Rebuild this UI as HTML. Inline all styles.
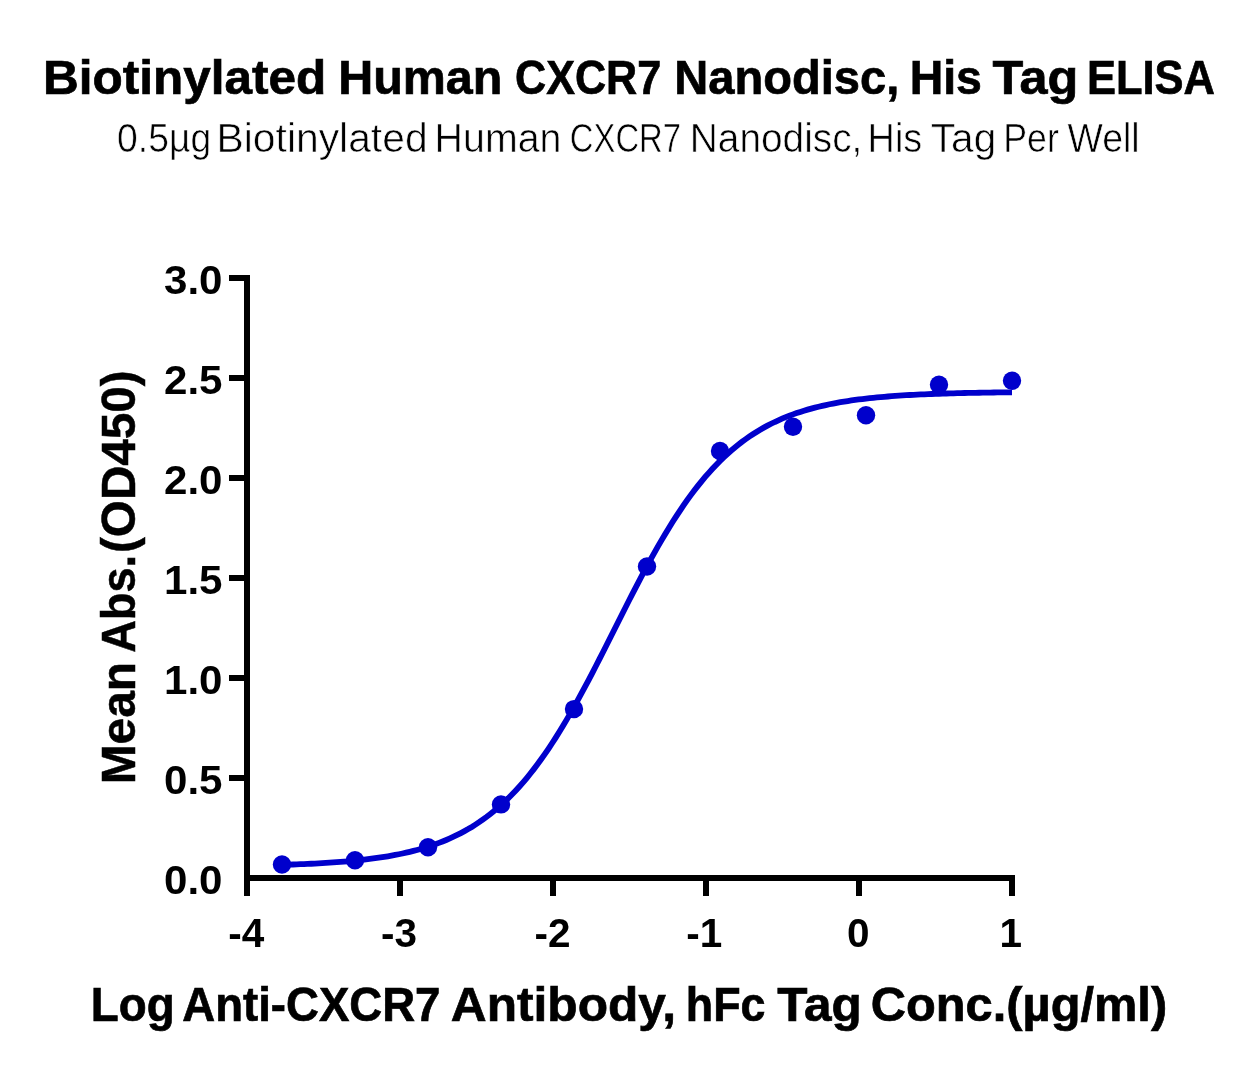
<!DOCTYPE html>
<html><head><meta charset="utf-8"><style>
html,body{margin:0;padding:0;background:#fff;}
svg{display:block;}
text{font-family:"Liberation Sans",sans-serif;}
</style></head><body>
<svg width="1257" height="1077" viewBox="0 0 1257 1077" style="will-change:transform">
<rect width="1257" height="1077" fill="#fff"/>
<text id="t0" x="43.00" y="94.20" font-size="48.50" font-weight="bold" stroke="#000" stroke-width="0.7" textLength="283.29" lengthAdjust="spacingAndGlyphs">Biotinylated</text>
<text id="t1" x="338.18" y="94.20" font-size="48.50" font-weight="bold" stroke="#000" stroke-width="0.7" textLength="164.26" lengthAdjust="spacingAndGlyphs">Human</text>
<text id="t2" x="515.00" y="94.20" font-size="48.50" font-weight="bold" stroke="#000" stroke-width="0.7" textLength="146.20" lengthAdjust="spacingAndGlyphs">CXCR7</text>
<text id="t3" x="674.22" y="94.20" font-size="48.50" font-weight="bold" stroke="#000" stroke-width="0.7" textLength="225.04" lengthAdjust="spacingAndGlyphs">Nanodisc,</text>
<text id="t4" x="909.69" y="94.20" font-size="48.50" font-weight="bold" stroke="#000" stroke-width="0.7" textLength="72.22" lengthAdjust="spacingAndGlyphs">His</text>
<text id="t5" x="992.49" y="94.20" font-size="48.50" font-weight="bold" stroke="#000" stroke-width="0.7" textLength="85.89" lengthAdjust="spacingAndGlyphs">Tag</text>
<text id="t6" x="1086.97" y="94.20" font-size="48.50" font-weight="bold" stroke="#000" stroke-width="0.7" textLength="128.04" lengthAdjust="spacingAndGlyphs">ELISA</text>
<text id="s0" x="117.08" y="151.70" font-size="39.80" stroke="#fff" stroke-width="0.6" textLength="94.07" lengthAdjust="spacingAndGlyphs">0.5µg</text>
<text id="s1" x="216.55" y="151.70" font-size="39.80" stroke="#fff" stroke-width="0.6" textLength="211.05" lengthAdjust="spacingAndGlyphs">Biotinylated</text>
<text id="s2" x="434.58" y="151.70" font-size="39.80" stroke="#fff" stroke-width="0.6" textLength="126.94" lengthAdjust="spacingAndGlyphs">Human</text>
<text id="s3" x="569.83" y="151.70" font-size="39.80" stroke="#fff" stroke-width="0.6" textLength="111.22" lengthAdjust="spacingAndGlyphs">CXCR7</text>
<text id="s4" x="689.84" y="151.70" font-size="39.80" stroke="#fff" stroke-width="0.6" textLength="172.49" lengthAdjust="spacingAndGlyphs">Nanodisc,</text>
<text id="s5" x="867.61" y="151.70" font-size="39.80" stroke="#fff" stroke-width="0.6" textLength="54.61" lengthAdjust="spacingAndGlyphs">His</text>
<text id="s6" x="930.88" y="151.70" font-size="39.80" stroke="#fff" stroke-width="0.6" textLength="65.29" lengthAdjust="spacingAndGlyphs">Tag</text>
<text id="s7" x="1003.23" y="151.70" font-size="39.80" stroke="#fff" stroke-width="0.6" textLength="55.61" lengthAdjust="spacingAndGlyphs">Per</text>
<text id="s8" x="1067.51" y="151.70" font-size="39.80" stroke="#fff" stroke-width="0.6" textLength="72.17" lengthAdjust="spacingAndGlyphs">Well</text>
<text id="x0" x="90.82" y="1021.30" font-size="48.50" font-weight="bold" stroke="#000" stroke-width="0.7" textLength="83.86" lengthAdjust="spacingAndGlyphs">Log</text>
<text id="x1" x="182.28" y="1021.30" font-size="48.50" font-weight="bold" stroke="#000" stroke-width="0.7" textLength="258.18" lengthAdjust="spacingAndGlyphs">Anti-CXCR7</text>
<text id="x2" x="450.85" y="1021.30" font-size="48.50" font-weight="bold" stroke="#000" stroke-width="0.7" textLength="225.23" lengthAdjust="spacingAndGlyphs">Antibody,</text>
<text id="x3" x="685.87" y="1021.30" font-size="48.50" font-weight="bold" stroke="#000" stroke-width="0.7" textLength="79.63" lengthAdjust="spacingAndGlyphs">hFc</text>
<text id="x4" x="777.37" y="1021.30" font-size="48.50" font-weight="bold" stroke="#000" stroke-width="0.7" textLength="84.37" lengthAdjust="spacingAndGlyphs">Tag</text>
<text id="x5" x="870.80" y="1021.30" font-size="48.50" font-weight="bold" stroke="#000" stroke-width="0.7" textLength="296.34" lengthAdjust="spacingAndGlyphs">Conc.(µg/ml)</text>
<text id="y0" transform="translate(135.30 784.28) rotate(-90)" font-size="48.00" font-weight="bold" stroke="#000" stroke-width="0.5" textLength="122.31" lengthAdjust="spacingAndGlyphs">Mean</text>
<text id="y1" transform="translate(135.30 652.86) rotate(-90)" font-size="48.00" font-weight="bold" stroke="#000" stroke-width="0.5" textLength="98.05" lengthAdjust="spacingAndGlyphs">Abs.</text>
<text id="y2" transform="translate(135.30 553.05) rotate(-90)" font-size="48.00" font-weight="bold" stroke="#000" stroke-width="0.5" textLength="182.79" lengthAdjust="spacingAndGlyphs">(OD450)</text>
<g fill="#000">
<rect x="244" y="275" width="6" height="606"/>
<rect x="244" y="875" width="771" height="6"/>
<rect x="229" y="775" width="21" height="6"/><rect x="229" y="675" width="21" height="6"/><rect x="229" y="575" width="21" height="6"/><rect x="229" y="475" width="21" height="6"/><rect x="229" y="375" width="21" height="6"/><rect x="229" y="275" width="21" height="6"/><rect x="244" y="875" width="6" height="21"/><rect x="397" y="875" width="6" height="21"/><rect x="550" y="875" width="6" height="21"/><rect x="703" y="875" width="6" height="21"/><rect x="856" y="875" width="6" height="21"/><rect x="1009" y="875" width="6" height="21"/>
</g>
<g font-weight="bold" font-size="40.9"><text x="164" y="893.5" textLength="58.5" lengthAdjust="spacingAndGlyphs">0.0</text><text x="164" y="793.5" textLength="58.5" lengthAdjust="spacingAndGlyphs">0.5</text><text x="164" y="693.5" textLength="58.5" lengthAdjust="spacingAndGlyphs">1.0</text><text x="164" y="593.5" textLength="58.5" lengthAdjust="spacingAndGlyphs">1.5</text><text x="164" y="493.5" textLength="58.5" lengthAdjust="spacingAndGlyphs">2.0</text><text x="164" y="393.5" textLength="58.5" lengthAdjust="spacingAndGlyphs">2.5</text><text x="164" y="293.5" textLength="58.5" lengthAdjust="spacingAndGlyphs">3.0</text></g>
<g font-weight="bold" font-size="40.5"><text x="246.25" y="946.8" text-anchor="middle">-4</text><text x="399.05" y="946.8" text-anchor="middle">-3</text><text x="552.45" y="946.8" text-anchor="middle">-2</text><text x="704.25" y="946.8" text-anchor="middle">-1</text><text x="858.15" y="946.8" text-anchor="middle">0</text><text x="1010.80" y="946.8" text-anchor="middle">1</text></g>
<path d="M282.00 864.86 L285.65 864.75 L289.30 864.63 L292.95 864.50 L296.60 864.37 L300.25 864.22 L303.90 864.07 L307.55 863.91 L311.20 863.74 L314.85 863.55 L318.50 863.36 L322.15 863.15 L325.80 862.93 L329.45 862.70 L333.10 862.45 L336.75 862.19 L340.40 861.91 L344.05 861.62 L347.70 861.30 L351.35 860.97 L355.00 860.61 L358.65 860.24 L362.30 859.84 L365.95 859.41 L369.60 858.96 L373.25 858.49 L376.90 857.98 L380.55 857.44 L384.20 856.87 L387.85 856.27 L391.50 855.63 L395.15 854.95 L398.80 854.23 L402.45 853.47 L406.10 852.66 L409.75 851.81 L413.40 850.90 L417.05 849.94 L420.70 848.93 L424.35 847.85 L428.00 846.71 L431.65 845.51 L435.30 844.24 L438.95 842.90 L442.60 841.48 L446.25 839.98 L449.90 838.39 L453.55 836.72 L457.20 834.96 L460.85 833.10 L464.50 831.14 L468.15 829.08 L471.80 826.91 L475.45 824.62 L479.10 822.22 L482.75 819.69 L486.40 817.04 L490.05 814.25 L493.70 811.33 L497.35 808.27 L501.00 805.06 L504.65 801.71 L508.30 798.20 L511.95 794.53 L515.60 790.71 L519.25 786.72 L522.90 782.57 L526.55 778.26 L530.20 773.77 L533.85 769.11 L537.50 764.28 L541.15 759.28 L544.80 754.11 L548.45 748.77 L552.10 743.27 L555.75 737.60 L559.40 731.77 L563.05 725.78 L566.70 719.64 L570.35 713.36 L574.00 706.94 L577.65 700.39 L581.30 693.72 L584.95 686.94 L588.60 680.05 L592.25 673.08 L595.90 666.02 L599.55 658.90 L603.20 651.72 L606.85 644.50 L610.50 637.25 L614.15 629.99 L617.80 622.73 L621.45 615.48 L625.10 608.25 L628.75 601.06 L632.40 593.93 L636.05 586.85 L639.70 579.86 L643.35 572.95 L647.00 566.15 L650.65 559.45 L654.30 552.87 L657.95 546.42 L661.60 540.10 L665.25 533.93 L668.90 527.91 L672.55 522.05 L676.20 516.34 L679.85 510.80 L683.50 505.42 L687.15 500.21 L690.80 495.17 L694.45 490.30 L698.10 485.61 L701.75 481.08 L705.40 476.73 L709.05 472.54 L712.70 468.52 L716.35 464.66 L720.00 460.96 L723.65 457.41 L727.30 454.02 L730.95 450.78 L734.60 447.69 L738.25 444.74 L741.90 441.92 L745.55 439.24 L749.20 436.68 L752.85 434.25 L756.50 431.94 L760.15 429.74 L763.80 427.65 L767.45 425.67 L771.10 423.79 L774.75 422.00 L778.40 420.31 L782.05 418.71 L785.70 417.19 L789.35 415.75 L793.00 414.39 L796.65 413.11 L800.30 411.89 L803.95 410.74 L807.60 409.65 L811.25 408.62 L814.90 407.65 L818.55 406.73 L822.20 405.86 L825.85 405.05 L829.50 404.27 L833.15 403.55 L836.80 402.86 L840.45 402.21 L844.10 401.60 L847.75 401.02 L851.40 400.48 L855.05 399.96 L858.70 399.48 L862.35 399.02 L866.00 398.59 L869.65 398.19 L873.30 397.81 L876.95 397.45 L880.60 397.11 L884.25 396.79 L887.90 396.49 L891.55 396.21 L895.20 395.94 L898.85 395.69 L902.50 395.45 L906.15 395.23 L909.80 395.02 L913.45 394.83 L917.10 394.64 L920.75 394.47 L924.40 394.30 L928.05 394.15 L931.70 394.00 L935.35 393.86 L939.00 393.73 L942.65 393.61 L946.30 393.50 L949.95 393.39 L953.60 393.29 L957.25 393.19 L960.90 393.10 L964.55 393.02 L968.20 392.94 L971.85 392.87 L975.50 392.80 L979.15 392.73 L982.80 392.67 L986.45 392.61 L990.10 392.55 L993.75 392.50 L997.40 392.45 L1001.05 392.41 L1004.70 392.36 L1008.35 392.32 L1012.00 392.29" fill="none" stroke="#0000CC" stroke-width="5.8"/>
<g fill="#0000CC"><circle cx="282.0" cy="864.5" r="9.2"/><circle cx="355.0" cy="860.2" r="9.2"/><circle cx="428.0" cy="847.2" r="9.2"/><circle cx="501.0" cy="804.4" r="9.2"/><circle cx="574.0" cy="709.1" r="9.2"/><circle cx="647.0" cy="566.5" r="9.2"/><circle cx="720.0" cy="450.9" r="9.2"/><circle cx="793.0" cy="426.8" r="9.2"/><circle cx="866.0" cy="415.2" r="9.2"/><circle cx="939.0" cy="384.8" r="9.2"/><circle cx="1012.0" cy="380.7" r="9.2"/></g>
</svg>
</body></html>
